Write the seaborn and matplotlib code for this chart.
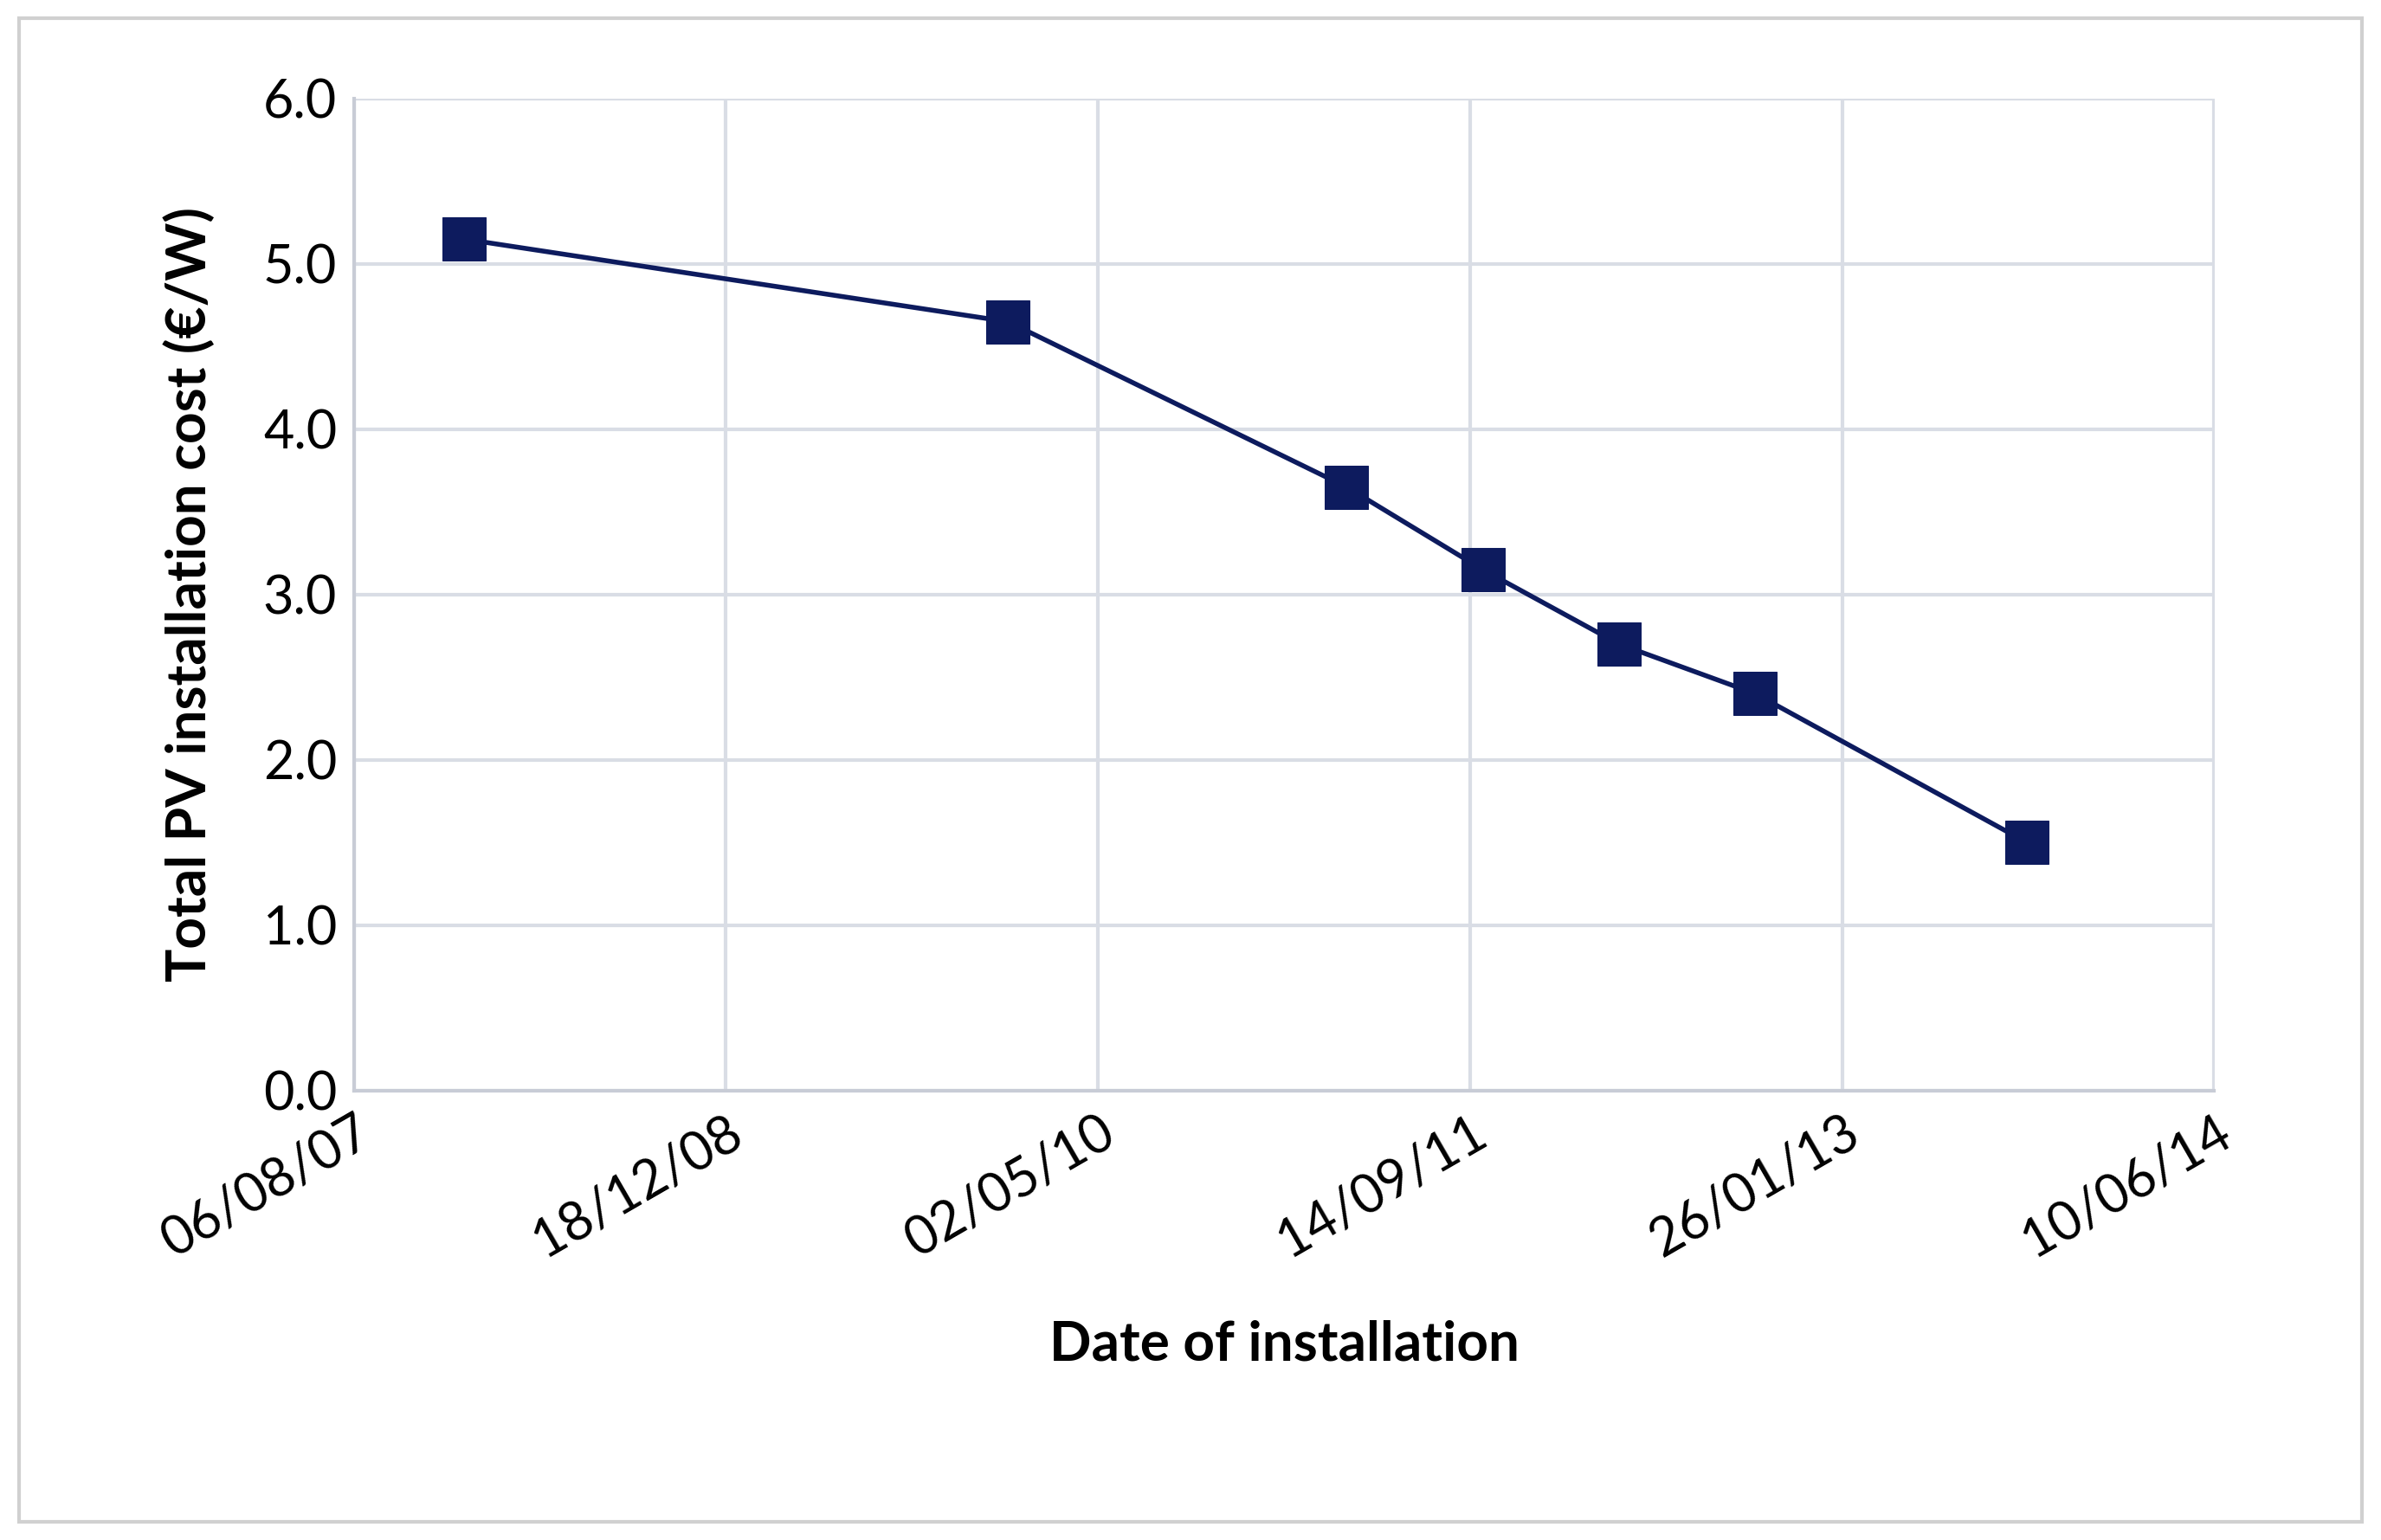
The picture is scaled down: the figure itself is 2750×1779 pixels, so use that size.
import matplotlib
matplotlib.use("Agg")
import matplotlib.pyplot as plt
import matplotlib.dates as mdates
import seaborn as sns
import pandas as pd
from matplotlib.patches import Rectangle

dates = ["2008-01-01", "2010-01-01", "2011-04-01", "2011-10-01", "2012-04-01", "2012-10-01", "2013-10-01"]
costs = [5.15, 4.65, 3.65, 3.15, 2.7, 2.4, 1.5]
tick_dates = ["2007-08-06", "2008-12-18", "2010-05-02", "2011-09-14", "2013-01-26", "2014-06-10"]

df = pd.DataFrame({"date": pd.to_datetime(dates), "cost": costs})

sns.set_theme(style="white")
plt.rcParams['font.family'] = ['Lato', 'DejaVu Sans']
plt.rcParams['text.color'] = 'black'
plt.rcParams['axes.labelcolor'] = 'black'

fig = plt.figure(figsize=(27.5, 17.79), dpi=100)
ax = fig.add_axes([0.1486, 0.292, 0.7814, 0.644])
sns.lineplot(data=df, x="date", y="cost", ax=ax, color="#0d1b5e", lw=4,
             marker="s", markersize=36, markeredgecolor="#0d1b5e")

ticks = pd.to_datetime(tick_dates)
ax.set_xlim(ticks[0], ticks[-1])
ax.set_xticks(ticks)
ax.xaxis.set_major_formatter(mdates.DateFormatter("%d/%m/%y"))
ax.set_ylim(0, 6)
ax.set_yticks([0, 1, 2, 3, 4, 5, 6])
ax.set_yticklabels([f"{v:.1f}" for v in range(7)])
ax.grid(True, color="#d9dde5", lw=3)
for s in ax.spines.values():
    s.set_visible(False)
ax.spines['left'].set_visible(True)
ax.spines['bottom'].set_visible(True)
ax.spines['left'].set_color("#c8ccd6"); ax.spines['left'].set_linewidth(3)
ax.spines['bottom'].set_color("#c8ccd6"); ax.spines['bottom'].set_linewidth(3)
ax.tick_params(axis='both', labelsize=44, colors="black", length=0, pad=14)
for lbl in ax.get_xticklabels():
    lbl.set_rotation(30); lbl.set_ha("right"); lbl.set_rotation_mode("anchor")
ax.set_xlabel("Date of installation", fontsize=46, fontweight="bold", labelpad=45)
ax.set_ylabel("Total PV installation cost (€/W)", fontsize=46, fontweight="bold", labelpad=40)

fig.patches.append(Rectangle((0.008, 0.012), 0.984, 0.976, transform=fig.transFigure,
                             fill=False, edgecolor="#d0d0d0", lw=3))
fig.savefig("out.png", dpi=100)
